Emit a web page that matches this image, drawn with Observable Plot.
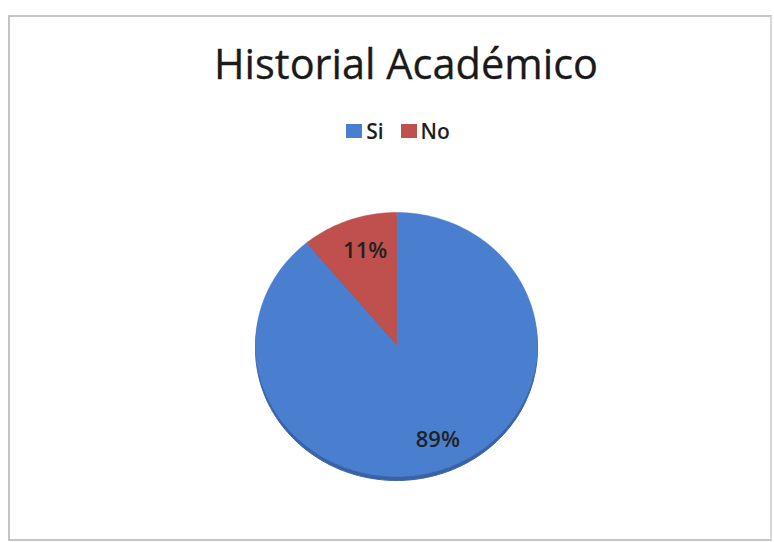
<!DOCTYPE html>
<html>
<head>
<meta charset="utf-8">
<script src="https://cdn.jsdelivr.net/npm/d3@7"></script>
<script src="https://cdn.jsdelivr.net/npm/@observablehq/plot@0.6"></script>
<style>
  html, body { margin: 0; padding: 0; background: #fff; }
  body { width: 774px; height: 542px; position: relative; overflow: hidden; font-family: "Open Sans", sans-serif; }
  #frame { position: absolute; left: 8px; top: 15px; width: 760px; height: 522px; border: 2px solid #c4c4c4; border-right-color: #d8d8d8; }
  #title { position: absolute; left: 0; width: 774px; top: 36px; text-align: center; font-size: 41.5px; line-height: 54px; color: #1a1a1a; padding-left: 38px; box-sizing: border-box; -webkit-text-stroke: 0.3px #1a1a1a; }
  #legend { position: absolute; left: 0; width: 774px; top: 117px; display: flex; justify-content: center; gap: 17px; font-size: 21px; font-weight: 600; line-height: 28px; color: #1e1e1e; padding-left: 22px; box-sizing: border-box; }
  #legend .item { display: flex; align-items: center; gap: 4px; }
  #legend .sw { width: 16px; height: 14px; display: inline-block; }
  #chart { position: absolute; left: 0; top: 0; }
</style>
</head>
<body>
<div id="frame"></div>
<div id="chart"></div>
<div id="title"></div>
<div id="legend"></div>
<script>
// Data
const titleText = "Historial Académico";
const categories = ["Si", "No"];
const values = [89, 11];
const labels = ["89%", "11%"];
const colors = ["#4a7fcf", "#c0504d"];
const rimColors = ["#3a62a6", "#9a3c3a"];

const data = categories.map((c, i) => ({category: c, value: values[i], label: labels[i]}));

// Pie geometry via d3.pie (angles clockwise from 12 o'clock)
const arcs = d3.pie().sort(null).value(d => d.value)(data);
const outline = [];
arcs.forEach(a => {
  const n = Math.max(4, Math.ceil((a.endAngle - a.startAngle) / (Math.PI / 180)));
  outline.push({category: a.data.category, x: 0, y: 0});
  for (let k = 0; k <= n; k++) {
    const t = a.startAngle + (a.endAngle - a.startAngle) * k / n;
    outline.push({category: a.data.category, x: Math.sin(t), y: Math.cos(t)});
  }
  outline.push({category: a.data.category, x: 0, y: 0});
});
const labelPts = arcs.map(a => {
  const m = (a.startAngle + a.endAngle) / 2;
  const r = 0.76;
  return {category: a.data.category, label: a.data.label, x: r * Math.sin(m), y: r * Math.cos(m)};
});

document.getElementById("title").textContent = titleText;
const legend = document.getElementById("legend");
categories.forEach((c, i) => {
  const it = document.createElement("span");
  it.className = "item";
  const sw = document.createElement("span");
  sw.className = "sw";
  sw.style.background = colors[i];
  const tx = document.createElement("span");
  tx.textContent = c;
  it.appendChild(sw); it.appendChild(tx);
  legend.appendChild(it);
});

const cx = 396, cy = 344, rx = 141, ry = 132;
const W = 774, H = 542;

const plot = Plot.plot({
  width: W,
  height: H,
  marginLeft: cx - rx,
  marginRight: W - (cx + rx),
  marginTop: cy - ry,
  marginBottom: H - (cy + ry),
  x: {domain: [-1, 1], axis: null},
  y: {domain: [-1, 1], axis: null},
  color: {domain: categories, range: colors},
  style: {background: "transparent"},
  marks: [
    Plot.line(outline, {x: "x", y: "y", z: "category", dy: 4,
      fill: d => rimColors[categories.indexOf(d.category)], stroke: d => rimColors[categories.indexOf(d.category)], strokeWidth: 1, curve: "linear-closed"}),
    Plot.line(outline, {x: "x", y: "y", z: "category", fill: "category", stroke: "category", strokeWidth: 0.5, curve: "linear-closed"}),
    Plot.text(labelPts, {x: "x", y: "y", text: "label", dx: 5, dy: 1, fontSize: 22, fontWeight: 600, fill: "#222", fontFamily: "Open Sans"})
  ]
});
document.getElementById("chart").appendChild(plot);
</script>
</body>
</html>
